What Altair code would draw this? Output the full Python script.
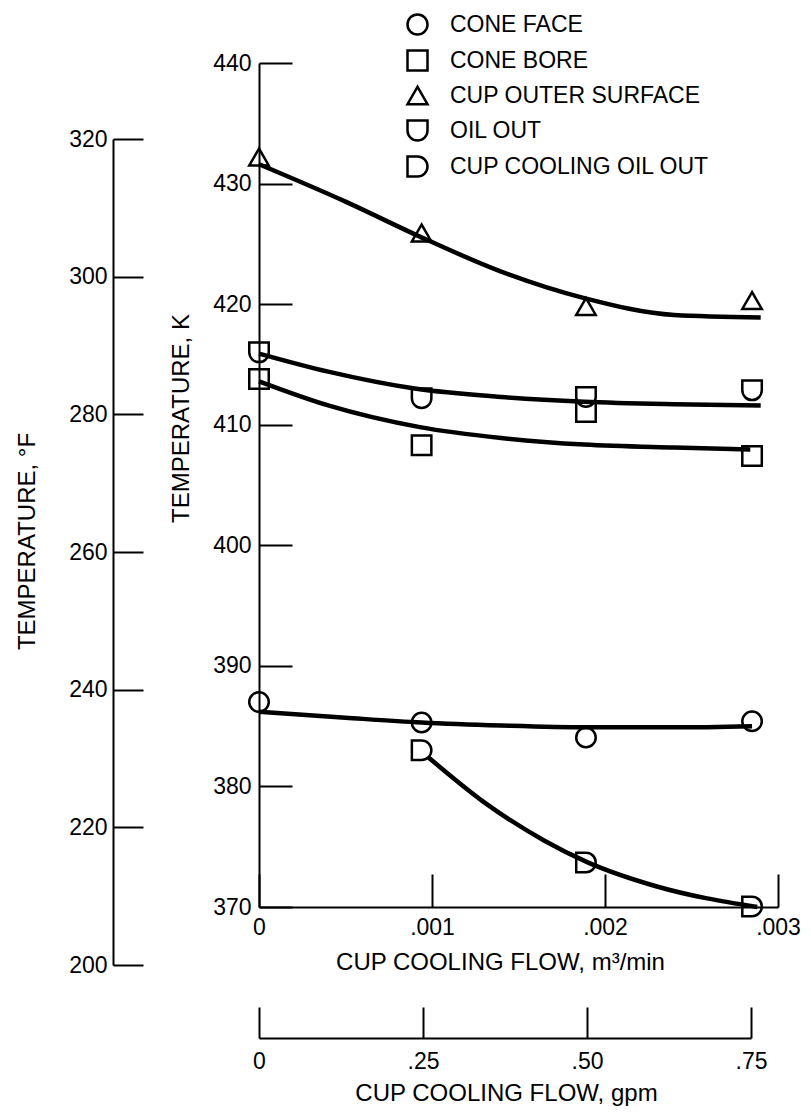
import altair as alt
import pandas as pd

FONT = "'Liberation Sans Narrow', 'Liberation Sans', Arial, sans-serif"

# ---- series / legend ----
series_names = ["CONE FACE", "CONE BORE", "CUP OUTER SURFACE", "OIL OUT", "CUP COOLING OIL OUT"]
shape_paths = ["circle", "square", "triangle-up",
               "M-1,-1H1V0A1,1 0 0 1 -1,0Z",
               "M-1,-1H0A1,1 0 0 1 0,1H-1Z"]

# ---- measured points (flow m^3/min, temperature K) ----
flow_pts = [0, 0.00094, 0.00189, 0.00285]
cone_face_pts = [387.0, 385.3, 384.05, 385.4]
cone_bore_pts = [413.8, 408.3, 411.05, 407.4]
cup_outer_pts = [432.2, 425.9, 419.8, 420.3]
oil_out_pts = [416.0, 412.2, 412.3, 412.85]
cup_cool_flow = [0.00094, 0.00189, 0.00285]
cup_cool_pts = [383.0, 373.7, 370.05]

# ---- faired curves ----
cup_outer_fit_x = [0, 0.0005, 0.00093, 0.0014, 0.00188, 0.0024, 0.0029]
cup_outer_fit_y = [431.6, 428.5, 425.6, 422.7, 420.5, 419.1, 418.9]
oil_out_fit_x = [0, 0.0004, 0.0009, 0.0014, 0.00188, 0.0024, 0.0029]
oil_out_fit_y = [415.9, 414.4, 413.0, 412.3, 411.9, 411.7, 411.6]
cone_bore_fit_x = [0, 0.0004, 0.00093, 0.0014, 0.00188, 0.0024, 0.00284]
cone_bore_fit_y = [413.6, 411.6, 409.8, 408.9, 408.35, 408.1, 407.95]
cone_face_fit_x = [0, 0.0005, 0.00094, 0.0014, 0.00189, 0.0024, 0.00285]
cone_face_fit_y = [386.2, 385.7, 385.3, 385.05, 384.9, 384.9, 385.0]
cup_cool_fit_x = [0.00098, 0.0013, 0.00165, 0.0019, 0.0023, 0.00288]
cup_cool_fit_y = [382.4, 378.7, 375.5, 373.7, 371.7, 370.0]

# ---- axis ticks ----
k_ticks = [370, 380, 390, 400, 410, 420, 430, 440]
f_ticks = [200, 220, 240, 260, 280, 300, 320]
x_ticks = [0, 0.001, 0.002, 0.003]
gpm_ticks = [0, 0.25, 0.5, 0.75]

W, H = 519, 844

rows = []
for name, xs, ys in [("CONE FACE", flow_pts, cone_face_pts),
                     ("CONE BORE", flow_pts, cone_bore_pts),
                     ("CUP OUTER SURFACE", flow_pts, cup_outer_pts),
                     ("OIL OUT", flow_pts, oil_out_pts),
                     ("CUP COOLING OIL OUT", cup_cool_flow, cup_cool_pts)]:
    for a, b in zip(xs, ys):
        rows.append({"series": name, "flow": a, "temp": b})
pts_df = pd.DataFrame(rows)

frows = []
for name, xs, ys in [("CONE FACE", cone_face_fit_x, cone_face_fit_y),
                     ("CONE BORE", cone_bore_fit_x, cone_bore_fit_y),
                     ("CUP OUTER SURFACE", cup_outer_fit_x, cup_outer_fit_y),
                     ("OIL OUT", oil_out_fit_x, oil_out_fit_y),
                     ("CUP COOLING OIL OUT", cup_cool_fit_x, cup_cool_fit_y)]:
    for i, (a, b) in enumerate(zip(xs, ys)):
        frows.append({"series": name, "flow": a, "temp": b, "order": i})
fit_df = pd.DataFrame(frows)

common_axis = dict(grid=False, domainColor="black", domainWidth=2, tickColor="black", tickWidth=2,
                   labelFont=FONT, labelColor="black", labelFontSize=23, labelFlush=False,
                   labelOverlap=False, titleFont=FONT, titleColor="black", titleFontSize=24,
                   titleFontWeight="normal")

kscale = alt.Scale(domain=[370, 440], nice=False, zero=False)
xscale = alt.Scale(domain=[0, 0.003], nice=False, zero=False)

x_label_expr = "datum.value == 0 ? '0' : replace(format(datum.value, '.3f'), '0.', '.')"
g_label_expr = "datum.value == 0 ? '0' : replace(format(datum.value, '.2f'), '0.', '.')"

points = alt.Chart(pts_df).mark_point(filled=False, color="black", strokeWidth=2.5, size=380, opacity=1).encode(
    x=alt.X("flow:Q", scale=xscale, axis=alt.Axis(
        orient="bottom", values=x_ticks, labelExpr=x_label_expr, tickSize=0, labelPadding=9,
        title="CUP COOLING FLOW, m³/min", titleX=241, titleY=55, titleBaseline="middle",
        titleAlign="center", **common_axis)),
    y=alt.Y("temp:Q", scale=kscale, axis=alt.Axis(
        orient="left", values=k_ticks, tickSize=0, labelPadding=8,
        title="TEMPERATURE, K", titleX=-78, titleY=355, titleAngle=270, titleAlign="center",
        titleBaseline="middle", **common_axis)),
    shape=alt.Shape("series:N", scale=alt.Scale(domain=series_names, range=shape_paths),
                    legend=alt.Legend(orient="none", legendX=147, legendY=-50, title=None, padding=0,
                                      labelFont=FONT, labelFontSize=23, labelColor="black",
                                      labelLimit=0, symbolSize=400, symbolStrokeWidth=2.5,
                                      symbolStrokeColor="black", rowPadding=5, labelOffset=21)),
)

lines = alt.Chart(fit_df).mark_line(color="black", strokeWidth=4.5, interpolate="monotone").encode(
    x=alt.X("flow:Q", scale=xscale, axis=alt.Axis(
        orient="top", offset=-H, values=x_ticks, labels=False, domain=False, tickSize=33, title=None,
        **common_axis)),
    y=alt.Y("temp:Q", scale=kscale, axis=alt.Axis(
        orient="right", offset=-W, values=k_ticks, labels=False, domain=False, tickSize=33, title=None,
        **common_axis)),
    detail="series:N",
    order="order:Q",
)

fdf = pd.DataFrame({"f": f_ticks})
fscale = alt.Scale(domain=[200, 320], range=[902, 76], nice=False, zero=False)
f_lab = alt.Chart(fdf).mark_point(opacity=0).encode(
    y=alt.Y("f:Q", scale=fscale, axis=alt.Axis(
        orient="left", offset=146, values=f_ticks, tickSize=0, labelPadding=6,
        title="TEMPERATURE, °F", titleX=-86, titleY=478, titleAngle=270, titleAlign="center",
        titleBaseline="middle", **common_axis)))
f_tck = alt.Chart(fdf).mark_point(opacity=0).encode(
    y=alt.Y("f:Q", scale=fscale, axis=alt.Axis(
        orient="right", offset=-(W + 146), values=f_ticks, labels=False, domain=False, tickSize=30,
        title=None, **common_axis)))

gdf = pd.DataFrame({"g": gpm_ticks})
gscale = alt.Scale(domain=[0, 0.75], range=[0, 492], nice=False, zero=False)
g_lab = alt.Chart(gdf).mark_point(opacity=0).encode(
    x=alt.X("g:Q", scale=gscale, axis=alt.Axis(
        orient="bottom", offset=131, values=gpm_ticks, labelExpr=g_label_expr, tickSize=0,
        labelPadding=12, title="CUP COOLING FLOW, gpm", titleX=247, titleY=55,
        titleBaseline="middle", titleAlign="center", **common_axis)))
g_tck = alt.Chart(gdf).mark_point(opacity=0).encode(
    x=alt.X("g:Q", scale=gscale, axis=alt.Axis(
        orient="top", offset=-(H + 131), values=gpm_ticks, labels=False, domain=False, tickSize=31,
        title=None, **common_axis)))

chart = alt.layer(points, lines, f_lab, f_tck, g_lab, g_tck).resolve_scale(
    x="independent", y="independent"
).properties(
    width=W, height=H,
    autosize=alt.AutoSizeParams(type="none"),
    padding={"left": 259, "top": 63, "right": 33, "bottom": 205},
    background="white",
).configure_view(stroke=None)

chart.save("out.html", embed_options={"renderer": "svg", "actions": False})
